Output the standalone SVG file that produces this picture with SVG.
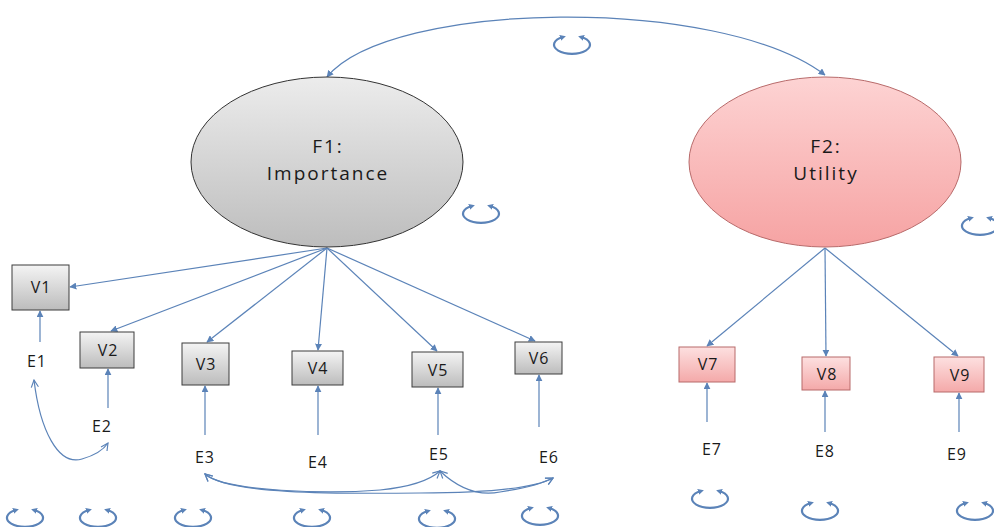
<svg xmlns="http://www.w3.org/2000/svg" xmlns:xlink="http://www.w3.org/1999/xlink" width="994" height="527" viewBox="0 0 994 527">
<style>
.lbl{font-family:"Open Sans","DejaVu Sans",sans-serif;fill:#1a1a1a;text-anchor:middle}
.big{font-size:19px;letter-spacing:2px}
.sm{font-size:16px;letter-spacing:1px}
.arr{fill:none;stroke:#5b83b8;stroke-width:1.2;marker-end:url(#tri)}
.cov{fill:none;stroke:#5b83b8;stroke-width:1.2;marker-start:url(#chev);marker-end:url(#chev)}
.gbox{fill:url(#gGray);stroke:#3c3c3c;stroke-width:1}
.pbox{fill:url(#gPink);stroke:#b86a6a;stroke-width:1}
.loop{fill:none;stroke:#5b83b8;stroke-width:2.2;marker-start:url(#lh);marker-end:url(#lh)}
</style>
<defs>
<linearGradient id="gGray" x1="0" y1="0" x2="0" y2="1"><stop offset="0" stop-color="#f4f4f4"/><stop offset="1" stop-color="#bcbcbc"/></linearGradient>
<linearGradient id="gPink" x1="0" y1="0" x2="0" y2="1"><stop offset="0" stop-color="#fde0e0"/><stop offset="1" stop-color="#f4a9a9"/></linearGradient>
<linearGradient id="gF1" x1="0" y1="0" x2="0" y2="1"><stop offset="0" stop-color="#ececec"/><stop offset="1" stop-color="#bdbdbd"/></linearGradient>
<linearGradient id="gF2" x1="0" y1="0" x2="0" y2="1"><stop offset="0" stop-color="#fdd3d3"/><stop offset="1" stop-color="#f6a3a3"/></linearGradient>
<marker id="tri" viewBox="0 0 10 10" refX="9" refY="5" markerWidth="7" markerHeight="7" markerUnits="userSpaceOnUse" orient="auto-start-reverse"><path d="M0 0L10 5L0 10z" fill="#5b83b8"/></marker>
<marker id="chev" viewBox="0 0 10 10" refX="9" refY="5" markerWidth="9" markerHeight="9" markerUnits="userSpaceOnUse" orient="auto-start-reverse"><path d="M1 1L9 5L1 9" fill="none" stroke="#5b83b8" stroke-width="1.3"/></marker>
<marker id="lh" viewBox="0 0 10 10" refX="5" refY="5" markerWidth="6" markerHeight="6" markerUnits="userSpaceOnUse" orient="auto-start-reverse"><path d="M0 0L10 5L0 10z" fill="#5b83b8"/></marker>
<g id="loop"><path class="loop" d="M -9 -7 A 18 9 0 1 0 9 -7"/></g>
</defs>

<g id="connectors">
<path class="arr" d="M 327 77 C 390 0, 720 -5, 825 75" marker-start="url(#tri)"/>
<path class="arr" d="M 327 248 L 70 287"/>
<path class="arr" d="M 327 248 L 111 331"/>
<path class="arr" d="M 327 248 L 207 342"/>
<path class="arr" d="M 327 248 L 318 350"/>
<path class="arr" d="M 327 248 L 437 351"/>
<path class="arr" d="M 327 248 L 535 341"/>
<path class="arr" d="M 825 248 L 707 346"/>
<path class="arr" d="M 825 248 L 826 356"/>
<path class="arr" d="M 825 248 L 958 356"/>
<path class="arr" d="M 40 342 L 40 311"/>
<path class="arr" d="M 108 408 L 108 369"/>
<path class="arr" d="M 205 435 L 205 386"/>
<path class="arr" d="M 318 435 L 318 386"/>
<path class="arr" d="M 438 435 L 438 388"/>
<path class="arr" d="M 539 427 L 539 375"/>
<path class="arr" d="M 707 422 L 707 383"/>
<path class="arr" d="M 825 432 L 825 391"/>
<path class="arr" d="M 959 432 L 959 393"/>
<path class="cov" d="M 34 380 C 40 430, 58 466, 82 459 C 96 455, 104 449, 108 443"/>
<path class="cov" d="M 205 474 C 225 492, 330 494, 380 490 C 410 487, 430 480, 440 471"/>
<path class="cov" d="M 205 474 C 228 494, 330 494, 420 493 C 480 493, 530 490, 553 478"/>
<path class="cov" d="M 440 471 C 460 490, 480 496, 500 492 C 520 489, 540 485, 553 478"/>
</g>

<g id="F1"><ellipse cx="327" cy="162" rx="136" ry="85" fill="url(#gF1)" stroke="#333" stroke-width="1"/><text class="lbl big" x="328" y="153">F1:</text><text class="lbl big" x="328" y="180">Importance</text></g>
<g id="F2"><ellipse cx="825" cy="162" rx="136" ry="85" fill="url(#gF2)" stroke="#b86a6a" stroke-width="1"/><text class="lbl big" x="826" y="153">F2:</text><text class="lbl big" x="826" y="180">Utility</text></g>

<g id="V1"><rect class="gbox" x="12" y="265" width="57" height="45"/><text class="lbl sm" x="41" y="293">V1</text></g>
<g id="V2"><rect class="gbox" x="80" y="332" width="54" height="36"/><text class="lbl sm" x="108" y="356">V2</text></g>
<g id="V3"><rect class="gbox" x="182" y="343" width="47" height="42"/><text class="lbl sm" x="206" y="370">V3</text></g>
<g id="V4"><rect class="gbox" x="292" y="351" width="51" height="34"/><text class="lbl sm" x="318" y="374">V4</text></g>
<g id="V5"><rect class="gbox" x="412" y="352" width="51" height="35"/><text class="lbl sm" x="438" y="376">V5</text></g>
<g id="V6"><rect class="gbox" x="515" y="342" width="47" height="32"/><text class="lbl sm" x="539" y="364">V6</text></g>
<g id="V7"><rect class="pbox" x="679" y="347" width="56" height="35"/><text class="lbl sm" x="708" y="370">V7</text></g>
<g id="V8"><rect class="pbox" x="802" y="357" width="48" height="33"/><text class="lbl sm" x="827" y="380">V8</text></g>
<g id="V9"><rect class="pbox" x="934" y="357" width="50" height="35"/><text class="lbl sm" x="960" y="381">V9</text></g>

<g id="E1"><text class="lbl sm" x="37" y="367">E1</text></g>
<g id="E2"><text class="lbl sm" x="102" y="432">E2</text></g>
<g id="E3"><text class="lbl sm" x="205" y="463">E3</text></g>
<g id="E4"><text class="lbl sm" x="318" y="468">E4</text></g>
<g id="E5"><text class="lbl sm" x="439" y="460">E5</text></g>
<g id="E6"><text class="lbl sm" x="549" y="463">E6</text></g>
<g id="E7"><text class="lbl sm" x="712" y="455">E7</text></g>
<g id="E8"><text class="lbl sm" x="825" y="457">E8</text></g>
<g id="E9"><text class="lbl sm" x="957" y="460">E9</text></g>

<g id="loops">
<use href="#loop" x="572" y="44"/>
<use href="#loop" x="481" y="213"/>
<use href="#loop" x="980" y="225"/>
<use href="#loop" x="25" y="517"/>
<use href="#loop" x="98" y="517"/>
<use href="#loop" x="193" y="517"/>
<use href="#loop" x="312" y="517"/>
<use href="#loop" x="437" y="518"/>
<use href="#loop" x="540" y="515"/>
<use href="#loop" x="710" y="498"/>
<use href="#loop" x="820" y="510"/>
<use href="#loop" x="975" y="510"/>
</g>
</svg>
